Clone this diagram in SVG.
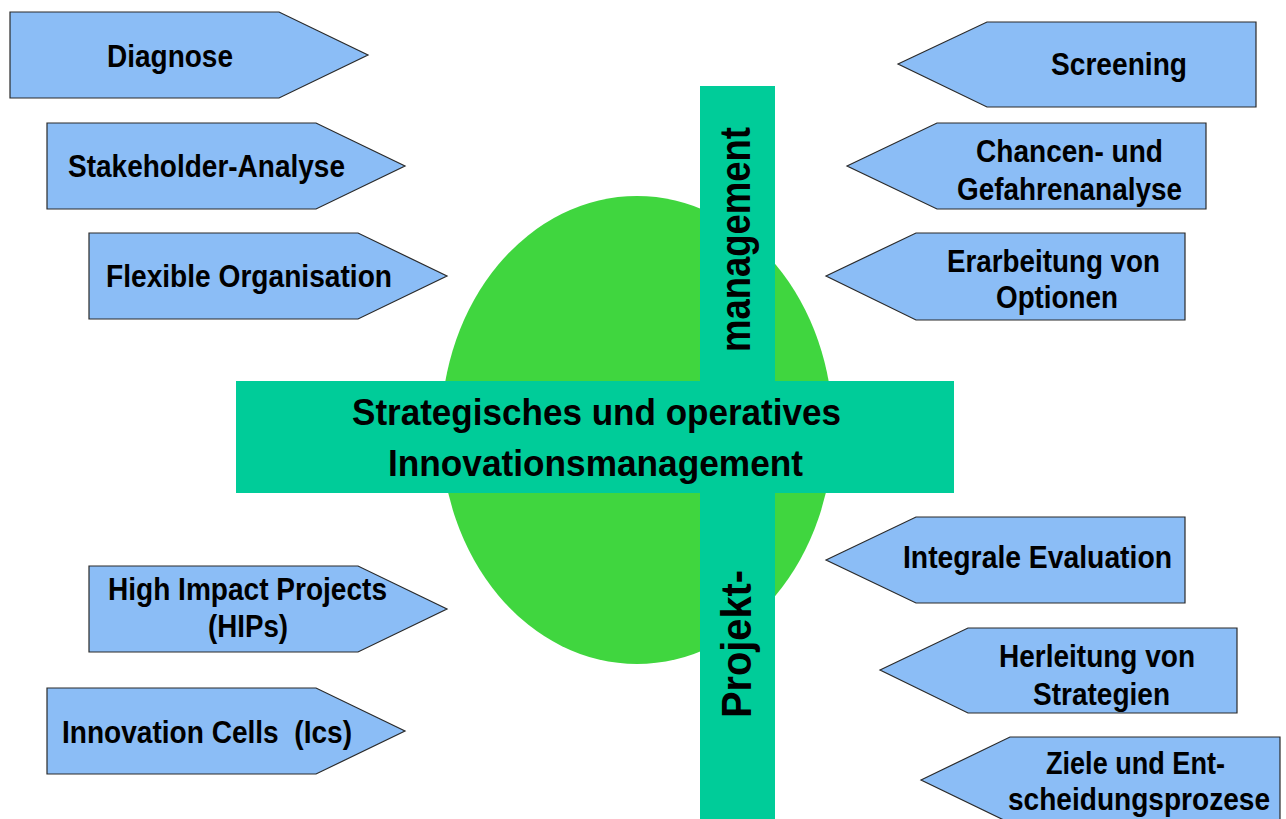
<svg xmlns="http://www.w3.org/2000/svg" width="1286" height="819" viewBox="0 0 1286 819">
<style>
.arr{fill:#8bbdf6;stroke:#2a2a2a;stroke-width:1.2;stroke-linejoin:miter}
.lbl{font-family:"Liberation Sans",Arial,sans-serif;font-weight:bold;font-size:32px;fill:#000}
.big{font-family:"Liberation Sans",Arial,sans-serif;font-weight:bold;font-size:36px;fill:#000}
.vert{font-family:"Liberation Sans",Arial,sans-serif;font-weight:bold;font-size:42px;fill:#000}
.bar{fill:#00cc99}
</style>
<rect width="1286" height="819" fill="#ffffff"/>
<g id="core">
<ellipse cx="637" cy="430" rx="196" ry="234" fill="#40d63f"/>
<rect class="bar" x="700" y="86" width="75" height="733"/>
<rect class="bar" x="236" y="381" width="718" height="112"/>
<text class="big" x="352" y="425" textLength="489" lengthAdjust="spacingAndGlyphs">Strategisches und operatives</text>
<text class="big" x="388" y="476" textLength="415" lengthAdjust="spacingAndGlyphs">Innovationsmanagement</text>
<text class="vert" transform="translate(750,352) rotate(-90)" x="0" y="0" textLength="225" lengthAdjust="spacingAndGlyphs">management</text>
<text class="vert" transform="translate(751,718) rotate(-90)" x="0" y="0" textLength="148" lengthAdjust="spacingAndGlyphs">Projekt-</text>
</g>
<g id="connectors"></g>
<g id="diagnose">
<polygon class="arr" points="10,12 279,12 368,55 279,98 10,98"/>
<text class="lbl" x="107" y="67" textLength="126" lengthAdjust="spacingAndGlyphs">Diagnose</text>
</g>
<g id="stakeholder">
<polygon class="arr" points="47,123 316,123 405,166 316,209 47,209"/>
<text class="lbl" x="68" y="177" textLength="277" lengthAdjust="spacingAndGlyphs">Stakeholder-Analyse</text>
</g>
<g id="flexible">
<polygon class="arr" points="89,233 358,233 447,276 358,319 89,319"/>
<text class="lbl" x="106" y="287" textLength="286" lengthAdjust="spacingAndGlyphs">Flexible Organisation</text>
</g>
<g id="hips">
<polygon class="arr" points="89,566 358,566 447,609 358,652 89,652"/>
<text class="lbl" x="108" y="600" textLength="279" lengthAdjust="spacingAndGlyphs">High Impact Projects</text>
<text class="lbl" x="208" y="637" textLength="80" lengthAdjust="spacingAndGlyphs">(HIPs)</text>
</g>
<g id="ics">
<polygon class="arr" points="47,688 316,688 405,731 316,774 47,774"/>
<text class="lbl" x="62" y="743" textLength="290" lengthAdjust="spacingAndGlyphs" xml:space="preserve">Innovation Cells  (Ics)</text>
</g>
<g id="screening">
<polygon class="arr" points="898,64 987,22 1256,22 1256,107 987,107"/>
<text class="lbl" x="1051" y="75" textLength="136" lengthAdjust="spacingAndGlyphs">Screening</text>
</g>
<g id="chancen">
<polygon class="arr" points="847,166 937,123 1206,123 1206,209 937,209"/>
<text class="lbl" x="976" y="162" textLength="187" lengthAdjust="spacingAndGlyphs">Chancen- und</text>
<text class="lbl" x="957" y="200" textLength="225" lengthAdjust="spacingAndGlyphs">Gefahrenanalyse</text>
</g>
<g id="erarbeitung">
<polygon class="arr" points="826,276 916,233 1185,233 1185,320 916,320"/>
<text class="lbl" x="947" y="272" textLength="213" lengthAdjust="spacingAndGlyphs">Erarbeitung von</text>
<text class="lbl" x="996" y="308" textLength="122" lengthAdjust="spacingAndGlyphs">Optionen</text>
</g>
<g id="integrale">
<polygon class="arr" points="826,560 916,517 1185,517 1185,603 916,603"/>
<text class="lbl" x="903" y="568" textLength="269" lengthAdjust="spacingAndGlyphs">Integrale Evaluation</text>
</g>
<g id="herleitung">
<polygon class="arr" points="880,670 968,628 1237,628 1237,713 968,713"/>
<text class="lbl" x="999" y="667" textLength="196" lengthAdjust="spacingAndGlyphs">Herleitung von</text>
<text class="lbl" x="1033" y="705" textLength="137" lengthAdjust="spacingAndGlyphs">Strategien</text>
</g>
<g id="ziele">
<polygon class="arr" points="921,780 1010,737 1280,737 1280,823 1010,823"/>
<text class="lbl" x="1046" y="774" textLength="179" lengthAdjust="spacingAndGlyphs">Ziele und Ent-</text>
<text class="lbl" x="1008" y="810" textLength="262" lengthAdjust="spacingAndGlyphs">scheidungsprozese</text>
</g>
</svg>
